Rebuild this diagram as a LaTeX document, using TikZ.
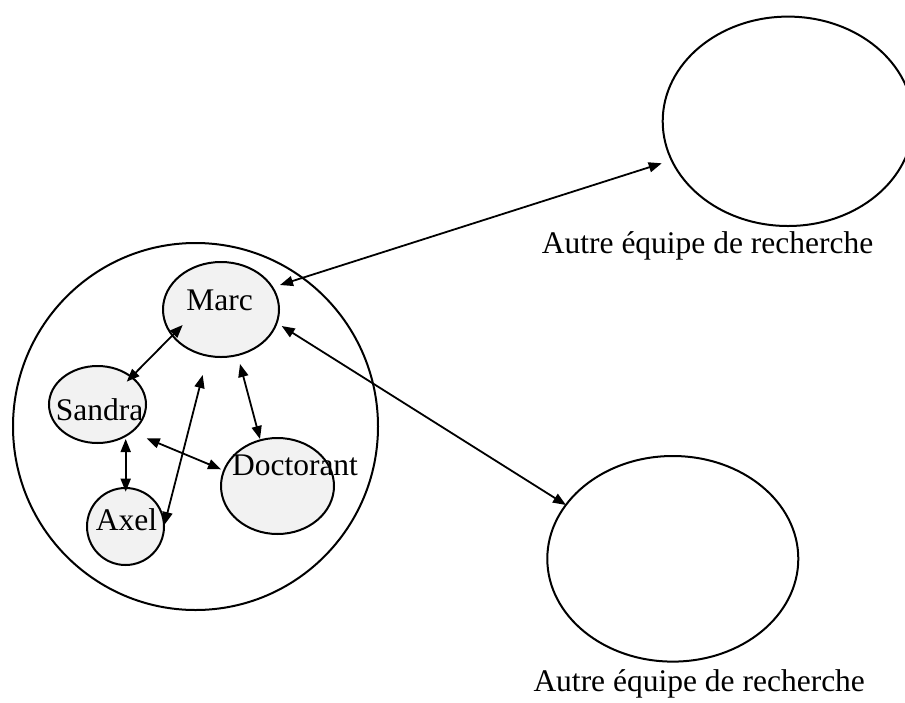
\documentclass[tikz,border=0pt]{standalone}
\usepackage{fontspec}
\setmainfont{Liberation Serif}
\usetikzlibrary{shapes.geometric,arrows.meta}
\definecolor{lightfill}{HTML}{F2F2F2}
\tikzset{
  oval/.style={draw=black, line width=2pt, ellipse, inner sep=0pt},
  member/.style={oval, fill=lightfill},
  lbl/.style={inner sep=0pt, font=\fontsize{31.5}{36}\selectfont},
  link/.style={line width=1.8pt, {Triangle[length=13pt,width=10pt]}-{Triangle[length=13pt,width=10pt]}}
}
\begin{document}
\begin{tikzpicture}[x=1pt,y=-1pt]
\useasboundingbox (0,0) rectangle (905,702);
% outer team circle
\node[oval, minimum width=365pt, minimum height=367pt] (team) at (195.5,426.5) {};
% other research teams
\node[oval, minimum width=250.6pt, minimum height=209.4pt] (ext1) at (788,121.3) {};
\node[oval, minimum width=251pt, minimum height=205.6pt] (ext2) at (672.8,558.8) {};
% members
\node[member, minimum width=116pt, minimum height=95pt] (marc) at (221,309.5) {};
\node[member, minimum width=97pt, minimum height=77pt] (sandra) at (97.5,404.5) {};
\node[member, minimum width=77pt, minimum height=77pt] (axel) at (125.5,526.5) {};
\node[member, minimum width=113pt, minimum height=96pt] (doct) at (277.5,486) {};
% texts
\node[lbl, anchor=base] (tmarc) at (219.5,310) {Marc};
\node[lbl, anchor=base] (tsandra) at (99.5,420) {Sandra};
\node[lbl, anchor=base] (taxel) at (126.5,530) {Axel};
\node[lbl, anchor=base] (tdoct) at (295,475) {Doctorant};
\node[lbl, anchor=base west] (text1) at (541.7,253.3) {Autre équipe de recherche};
\node[lbl, anchor=base west] (text2) at (533.3,691.7) {Autre équipe de recherche};
% connector ends
\coordinate (m1) at (280,285);
\coordinate (e1) at (661.7,163.3);
\coordinate (m2) at (281.7,326);
\coordinate (e2) at (566,505);
\coordinate (m3) at (182.7,325);
\coordinate (s3) at (126.7,381.7);
\coordinate (m4) at (240,364);
\coordinate (d4) at (260,439);
\coordinate (m5) at (202.7,375);
\coordinate (a5) at (164.3,525);
\coordinate (s6) at (125.7,439);
\coordinate (a6) at (125.7,491.7);
\coordinate (s7) at (146.7,438.3);
\coordinate (d7) at (221,469.3);
% connectors
\draw[link] (m1) -- (e1);
\draw[link] (m2) -- (e2);
\draw[link] (m3) -- (s3);
\draw[link] (m4) -- (d4);
\draw[link] (m5) -- (a5);
\draw[link] (s6) -- (a6);
\draw[link] (s7) -- (d7);
\end{tikzpicture}
\end{document}
